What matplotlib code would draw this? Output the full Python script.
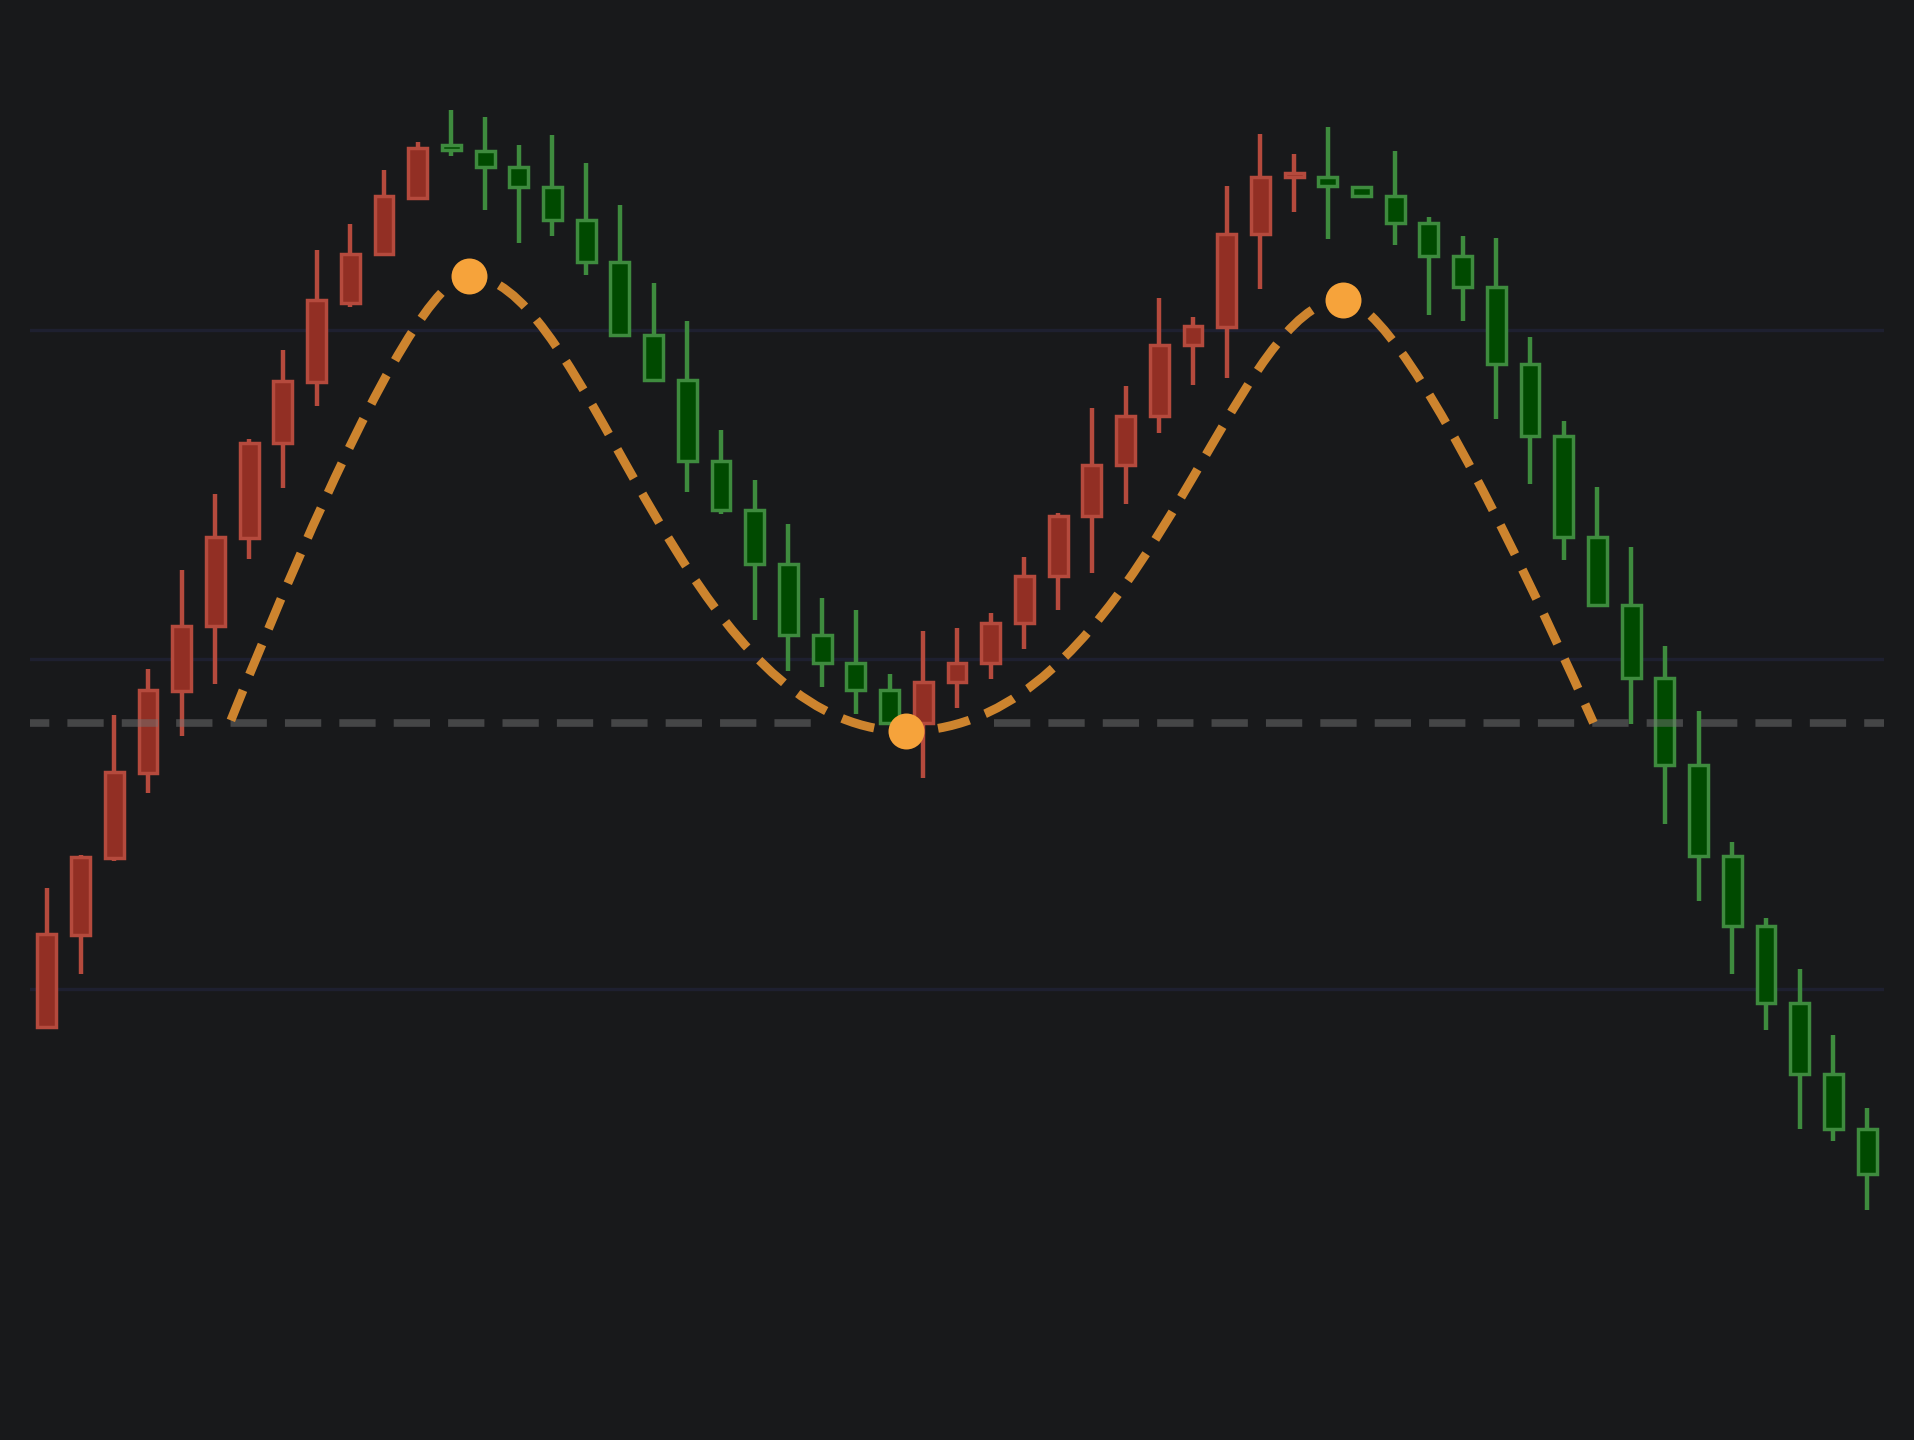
import numpy as np
import matplotlib
matplotlib.use("Agg")
import matplotlib.pyplot as plt
from matplotlib.path import Path
from matplotlib.patches import PathPatch

# --- data (price units, one candle per step) ---
opens = [98.85, 101.63, 103.96, 106.56, 109.04, 111.00, 113.67, 116.56, 118.41, 120.81,
         122.30, 124.00, 125.59, 125.41, 124.93, 124.33, 123.33, 122.04, 119.85, 118.48,
         116.00, 114.52, 112.89, 110.74, 109.89, 109.07, 108.07, 109.30, 109.89, 111.11,
         112.52, 114.33, 115.89, 117.37, 119.52, 120.07, 122.89, 124.63, 124.63, 124.33,
         124.04, 123.22, 122.22, 121.30, 118.96, 116.78, 113.70, 111.63, 109.44, 106.78,
         104.04, 101.89, 99.56, 97.41, 95.74]
closes = [101.67, 104.00, 106.59, 109.07, 111.00, 113.70, 116.56, 118.44, 120.89, 122.30,
          124.04, 125.52, 125.44, 124.93, 124.33, 123.33, 122.04, 119.85, 118.48, 116.00,
          114.52, 112.89, 110.74, 109.89, 109.07, 108.07, 109.30, 109.89, 111.11, 112.52,
          114.33, 115.89, 117.37, 119.52, 120.11, 122.89, 124.63, 124.74, 124.37, 124.04,
          123.22, 122.22, 121.30, 118.96, 116.78, 113.70, 111.63, 109.44, 106.78, 104.04,
          101.89, 99.56, 97.41, 95.74, 94.37]
highs = [103.07, 104.07, 108.30, 109.70, 112.70, 115.00, 116.67, 119.37, 122.41, 123.19,
         124.85, 125.70, 126.67, 126.44, 125.59, 125.89, 125.04, 123.78, 121.41, 120.26,
         116.96, 115.44, 114.11, 111.85, 111.48, 109.56, 110.85, 110.96, 111.41, 113.11,
         114.44, 117.63, 118.30, 120.96, 120.37, 124.37, 125.93, 125.33, 126.15, 124.33,
         125.41, 123.41, 122.85, 122.78, 119.78, 117.22, 115.22, 113.41, 110.41, 108.44,
         104.44, 102.15, 100.59, 98.59, 96.37]
lows = [98.78, 100.44, 103.89, 105.93, 107.67, 109.26, 113.04, 115.19, 117.67, 120.70,
        122.30, 123.96, 125.26, 123.63, 122.63, 122.85, 121.67, 119.85, 118.48, 115.07,
        114.41, 111.19, 109.63, 109.15, 108.33, 108.07, 106.41, 108.52, 109.41, 110.30,
        111.48, 112.63, 114.70, 116.85, 118.33, 118.52, 121.22, 123.56, 122.74, 124.04,
        122.56, 120.44, 120.26, 117.30, 115.33, 113.00, 111.59, 108.04, 105.00, 102.67,
        100.44, 98.74, 95.74, 95.37, 93.30]

# double-top outline: start on neckline, peak, trough, peak, end on neckline
pattern_x = [5.43, 12.51, 25.49, 38.44, 45.88]
pattern_y = [108.07, 121.63, 107.82, 120.90, 108.07]
pivot_idx = [1, 2, 3]          # points that get a dot
neckline = 108.07
neck_left = [-0.994, 22.7]
neck_right = [28.10, 56.0]

BG = "#18191b"
RED_EDGE, RED_FACE = "#b54a3d", "#922f24"
GREEN_EDGE, GREEN_FACE = "#3e8b3e", "#004a00"
ORANGE_LINE, ORANGE_DOT = "#d88b30", "#f6a33b"

fig = plt.figure(figsize=(19.14, 14.4), dpi=100, facecolor=BG)
ax = fig.add_axes([30 / 1914, 0, 1854 / 1914, 1])
ax.set_facecolor(BG)
ax.set_xlim(-0.5, 54.5)
ax.set_ylim(86.31, 130)
ax.set_autoscale_on(False)
for s in ax.spines.values():
    s.set_visible(False)
ax.set_xticks([])
ax.set_yticks([100, 110, 120])
ax.tick_params(left=False, labelleft=False)
ax.grid(axis="y", color="#1e2030", lw=2.4)
ax.set_axisbelow(True)

o = np.array(opens)
c = np.array(closes)
x = np.arange(len(o))
up = c >= o
edge = np.where(up, RED_EDGE, GREEN_EDGE)
face = np.where(up, RED_FACE, GREEN_FACE)

# candles
ax.vlines(x, lows, highs, colors=edge, lw=3.2, zorder=2)
ax.bar(x, np.maximum(np.abs(c - o), 0.08), bottom=np.minimum(o, c), width=0.56,
       color=face, edgecolor=edge, lw=2.5, zorder=3)

# neckline (broken around the trough)
for seg in (neck_left, neck_right):
    ax.plot(seg, [neckline, neckline], color="#737373", alpha=0.5, lw=5.5,
            dashes=(4.75, 2.37), solid_capstyle="butt", dash_capstyle="butt", zorder=4)

# smooth outline: one cubic bezier per leg, flat at the pivots
pts = np.column_stack([pattern_x, pattern_y])
n = len(pts)
slopes = np.zeros(n)
slopes[0] = 1.33 * (pts[1, 1] - pts[0, 1]) / (pts[1, 0] - pts[0, 0])
slopes[-1] = 1.33 * (pts[-1, 1] - pts[-2, 1]) / (pts[-1, 0] - pts[-2, 0])
handles = [(0.50, 0.16), (0.28, 0.52), (0.54, 0.26), (0.16, 0.50)]
gap_px = 32
curve_lw = 6.4
lw_px = curve_lw * fig.dpi / 72
dash_px, space_px = 32.5, 17.0


def bez(b, t):
    t = np.asarray(t)[:, None]
    return ((1 - t) ** 3 * b[0] + 3 * (1 - t) ** 2 * t * b[1]
            + 3 * (1 - t) * t ** 2 * b[2] + t ** 3 * b[3])


def split(b, t):
    p01 = (1 - t) * b[0] + t * b[1]
    p12 = (1 - t) * b[1] + t * b[2]
    p23 = (1 - t) * b[2] + t * b[3]
    p012 = (1 - t) * p01 + t * p12
    p123 = (1 - t) * p12 + t * p23
    p0123 = (1 - t) * p012 + t * p123
    return np.array([b[0], p01, p012, p0123]), np.array([p0123, p123, p23, b[3]])


ts = np.linspace(0, 1, 4001)
for i in range(n - 1):
    p1, p2 = pts[i], pts[i + 1]
    dx = p2[0] - p1[0]
    ha, hb = handles[i]
    c1 = p1 + ha * dx * np.array([1, slopes[i]])
    c2 = p2 - hb * dx * np.array([1, slopes[i + 1]])
    b = np.array([p1, c1, c2, p2])
    disp = ax.transData.transform(bez(b, ts))
    ta, tb = 0.0, 1.0
    start_pivot, end_pivot = i in pivot_idx, (i + 1) in pivot_idx
    if start_pivot:
        d = np.hypot(*(disp - ax.transData.transform(p1)).T)
        ta = ts[np.argmax(d >= gap_px)]
    if end_pivot:
        d = np.hypot(*(disp - ax.transData.transform(p2)).T)
        tb = ts[len(ts) - 1 - np.argmax(d[::-1] >= gap_px)]
    keep = disp[(ts >= ta) & (ts <= tb)]
    length = np.hypot(*np.diff(keep, axis=0).T).sum()

    # dash layout: full dashes next to the dots
    period = dash_px + space_px
    if start_pivot and end_pivot:
        k = max(1, round((length + space_px) / period))
        sc = length / (k * dash_px + (k - 1) * space_px)
        on, off, offset = dash_px * sc, space_px * sc, 0.0
    elif end_pivot:
        k = int(np.ceil((length + space_px) / period))
        on, off = dash_px, space_px
        offset = k * period - space_px - length
    else:
        on, off, offset = dash_px, space_px, 0.0

    b, _ = split(b, tb)
    _, b = split(b, ta / tb)
    path = Path(b, [Path.MOVETO, Path.CURVE4, Path.CURVE4, Path.CURVE4])
    ax.add_patch(PathPatch(path, fill=False, edgecolor=ORANGE_LINE, lw=curve_lw, alpha=0.95,
                           linestyle=(offset / lw_px, (on / lw_px, off / lw_px)),
                           capstyle="butt", zorder=5))

ax.plot(pts[pivot_idx, 0], pts[pivot_idx, 1], "o", ms=25.9, color=ORANGE_DOT,
        mec="none", zorder=6)

fig.savefig("out.png", dpi=100, facecolor=BG)
